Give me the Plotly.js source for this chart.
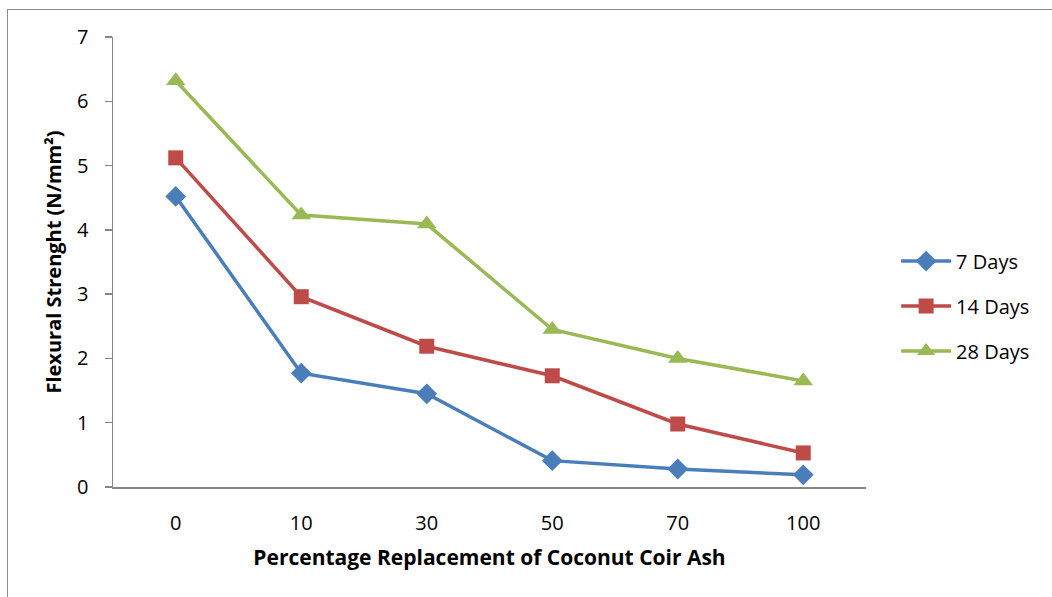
<!DOCTYPE html>
<html><head><meta charset="utf-8">
<script src="https://cdn.plot.ly/plotly-3.0.1.min.js"></script>
<style>
html,body{margin:0;padding:0;background:#fff;}
#frame{position:absolute;left:7px;top:9px;width:1050px;height:600px;border:1.5px solid #8c8c8c;box-sizing:border-box;}
#chart{position:absolute;left:0;top:0;width:1052px;height:597px;}
</style></head>
<body>
<div id="frame"></div>
<div id="chart"></div>
<script>
const categories = ["0","10","30","50","70","100"];
const days7  = [4.52, 1.77, 1.45, 0.41, 0.28, 0.19];
const days14 = [5.12, 2.96, 2.19, 1.73, 0.98, 0.53];
const days28 = [6.32, 4.23, 4.09, 2.45, 2.00, 1.65];
const seriesNames = ["7 Days","14 Days","28 Days"];

const FONT = "Open Sans, Noto Sans, sans-serif";
const traces = [
  {x:categories, y:days7, name:seriesNames[0], legendgroup:"a", mode:"lines+markers",
   line:{color:"#4A7EBB", width:3.5}, marker:{symbol:"diamond", size:16, color:"#4A7EBB"}},
  {x:categories, y:days14, name:seriesNames[1], legendgroup:"b", mode:"lines+markers",
   line:{color:"#BE4B48", width:3.5}, marker:{symbol:"square", size:15, color:"#BE4B48"}},
  {x:categories, y:days28, name:seriesNames[2], legendgroup:"c", mode:"lines+markers",
   line:{color:"#98B954", width:3.5}, marker:{symbol:"triangle-up", size:17, color:"#98B954"}}
];
const layout = {
  width:1052, height:597,
  paper_bgcolor:"rgba(0,0,0,0)", plot_bgcolor:"rgba(0,0,0,0)",
  margin:{l:113, r:186, t:37, b:110},
  font:{family:FONT, size:20, color:"#000"},
  showlegend:true,
  legend:{x:1.04, y:0.402, xanchor:"left", yanchor:"middle", font:{size:20, family:FONT},
          itemwidth:50, tracegroupgap:16, bgcolor:"rgba(0,0,0,0)"},
  xaxis:{type:"category", range:[-0.5,5.5], showline:true, linecolor:"#868686", linewidth:1.5,
         ticks:"", showgrid:false, zeroline:false, ticklabelstandoff:17,
         tickfont:{size:20, family:FONT},
         title:{text:"<b>Percentage Replacement of Coconut Coir Ash</b>", font:{size:21, family:FONT}, standoff:16}},
  yaxis:{range:[0,7], dtick:1, showline:true, linecolor:"#868686", linewidth:1.5,
         ticks:"outside", ticklen:7, tickcolor:"#868686", tickwidth:1.5,
         showgrid:false, zeroline:false, ticklabelstandoff:12,
         tickfont:{size:20, family:FONT},
         title:{text:"<b>Flexural Strenght (N/mm²)</b>", font:{size:20, family:FONT}, standoff:10}}
};
Plotly.newPlot("chart", traces, layout, {staticPlot:true});
</script>
</body></html>
